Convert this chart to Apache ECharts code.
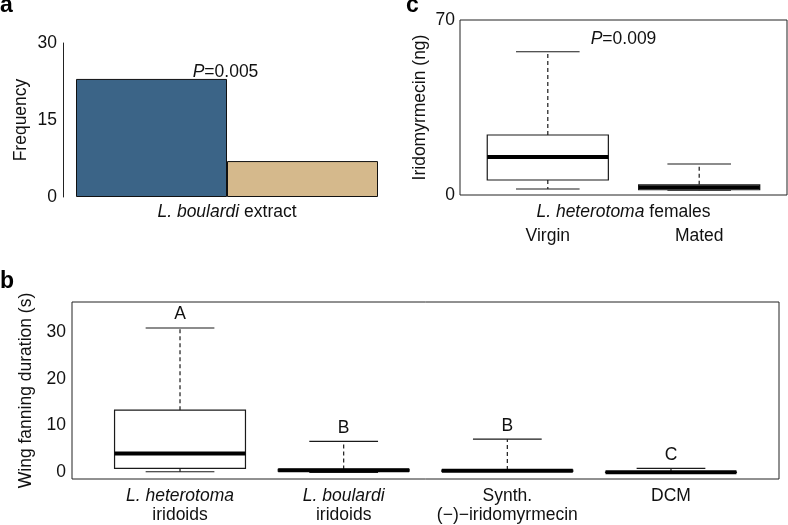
<!DOCTYPE html>
<html><head><meta charset="utf-8">
<script src="https://cdn.jsdelivr.net/npm/echarts@6/dist/echarts.min.js"></script>
<style>html,body{margin:0;padding:0;background:#fff}#c{width:788px;height:525px}</style>
</head><body><div id="c"></div>
<script>
// ---------- Panel a: bar chart ----------
const aBars = ['Choice 1', 'Choice 2'];
const aFreq = [23, 7];
const aColors = ['#3B6487', '#D5B98C'];
const aTicks = [0, 15, 30];

// ---------- Panel c: iridomyrmecin boxplot ----------
const cCats = ['Virgin', 'Mated'];
const cMin = [2.4, 1.9];
const cQ1 = [6.0, 2.1];
const cMed = [15.2, 3.1];
const cQ3 = [24.0, 4.1];
const cMax = [57.3, 12.4];
const cTicks = [0, 70];

// ---------- Panel b: wing fanning boxplot ----------
const bCats = ['{i|L. heterotoma}\n{n|iridoids}', '{i|L. boulardi}\n{n|iridoids}', '{n|Synth.}\n{n|(\u2212)\u2212iridomyrmecin}', '{n|DCM}'];
const bMin = [0.15, 0.0, 0.2, 0.0];
const bQ1 = [0.87, 0.25, 0.2, 0.0];
const bMed = [4.07, 0.45, 0.35, 0.03];
const bQ3 = [13.3, 0.65, 0.5, 0.08];
const bMax = [30.85, 6.63, 7.1, 0.87];
const bLetters = ['A', 'B', 'B', 'C'];
const bTicks = [0, 10, 20, 30];

const FONT = '"Liberation Sans", Arial, Helvetica, sans-serif';
const INK = '#111';
const FS = 17.5;

function boxRender(letters) {
  return function (params, api) {
    const i = params.dataIndex;
    const x = api.value(0);
    const w = api.size([0.8, 0])[0];
    const cw = api.size([0.42, 0])[0];
    const cx = api.coord([x, 0])[0];
    const y = v => api.coord([x, v])[1];
    const yMin = y(api.value(1)), yQ1 = y(api.value(2)), yMed = y(api.value(3)),
          yQ3 = y(api.value(4)), yMax = y(api.value(5));
    const dark = '#1a1a1a';
    const children = [
      {type: 'line', shape: {x1: cx, y1: yQ3, x2: cx, y2: yMax}, style: {stroke: dark, lineWidth: 1.2, lineDash: [4, 3]}},
      {type: 'line', shape: {x1: cx, y1: yQ1, x2: cx, y2: yMin}, style: {stroke: dark, lineWidth: 1.2, lineDash: [4, 3]}},
      {type: 'line', shape: {x1: cx - cw / 2, y1: yMax, x2: cx + cw / 2, y2: yMax}, style: {stroke: dark, lineWidth: 1.2}},
      {type: 'line', shape: {x1: cx - cw / 2, y1: yMin, x2: cx + cw / 2, y2: yMin}, style: {stroke: dark, lineWidth: 1.2}},
      {type: 'rect', shape: {x: cx - w / 2, y: yQ3, width: w, height: yQ1 - yQ3}, style: {fill: '#fff', stroke: dark, lineWidth: 1.2}},
      {type: 'line', shape: {x1: cx - w / 2, y1: yMed, x2: cx + w / 2, y2: yMed}, style: {stroke: '#000', lineWidth: 4}}
    ];
    if (letters) {
      children.push({type: 'text', style: {text: letters[i], x: cx, y: yMax - 13.5, align: 'center', verticalAlign: 'middle', font: FS + 'px ' + FONT, fill: INK}});
    }
    return {type: 'group', children: children};
  };
}

const chart = echarts.init(document.getElementById('c'), null, {renderer: 'canvas'});
const labelStyle = {fontSize: FS, color: INK, fontFamily: FONT};
const italicRich = {i: {fontStyle: 'italic', fontSize: FS, fontFamily: FONT, color: INK}};

const option = {
  animation: false,
  backgroundColor: '#fff',
  textStyle: {fontFamily: FONT, color: INK},
  grid: [
    {left: 76, top: 43, width: 302, height: 154},
    {left: 460, top: 20, width: 327, height: 175, show: true, borderColor: '#222', borderWidth: 1, backgroundColor: 'transparent'},
    {left: 72, top: 302, width: 707, height: 177, show: true, borderColor: '#222', borderWidth: 1, backgroundColor: 'transparent'}
  ],
  xAxis: [
    {
      gridIndex: 0, type: 'category', data: aBars,
      axisLine: {show: false}, axisTick: {show: false}, axisLabel: {show: false},
      name: '{i|L. boulardi} extract', nameLocation: 'middle', nameGap: 6, nameMoveOverlap: false,
      nameTextStyle: {fontSize: FS, color: INK, fontFamily: FONT, rich: italicRich}
    },
    {
      gridIndex: 1, type: 'value', min: 0.42, max: 2.58,
      axisLine: {show: false}, axisTick: {show: false}, splitLine: {show: false},
      axisLabel: Object.assign({customValues: [1, 2], formatter: v => cCats[Math.round(v) - 1] || '', margin: 32}, labelStyle),
      name: '{i|L. heterotoma} females', nameLocation: 'middle', nameGap: 8, nameMoveOverlap: false,
      nameTextStyle: {fontSize: FS, color: INK, fontFamily: FONT, rich: italicRich}
    },
    {
      gridIndex: 2, type: 'value', min: 0.34, max: 4.66,
      axisLine: {show: false}, axisTick: {show: false}, splitLine: {show: false},
      axisLabel: Object.assign({
        customValues: [1, 2, 3, 4], formatter: v => bCats[Math.round(v) - 1] || '', margin: 7,
        rich: {
          i: {fontStyle: 'italic', fontSize: FS, lineHeight: 19.5, fontFamily: FONT, color: INK},
          n: {fontSize: FS, lineHeight: 19.5, fontFamily: FONT, color: INK}
        }
      }, labelStyle)
    }
  ],
  yAxis: [
    {
      gridIndex: 0, type: 'value', min: 0, max: 30, interval: 15, offset: 13,
      axisLine: {show: true, lineStyle: {color: '#222', width: 1}}, axisTick: {show: false}, splitLine: {show: false},
      axisLabel: Object.assign({customValues: aTicks, margin: 6}, labelStyle),
      name: 'Frequency', nameLocation: 'middle', nameGap: 33,
      nameTextStyle: {fontSize: FS, color: INK, fontFamily: FONT}
    },
    {
      gridIndex: 1, type: 'value', min: 0, max: 70,
      axisLine: {show: false}, axisTick: {show: false}, splitLine: {show: false},
      axisLabel: Object.assign({customValues: cTicks, margin: 5}, labelStyle),
      name: 'Iridomyrmecin (ng)', nameLocation: 'middle', nameGap: 31,
      nameTextStyle: {fontSize: FS, color: INK, fontFamily: FONT}
    },
    {
      gridIndex: 2, type: 'value', min: -1.4, max: 36.4,
      axisLine: {show: false}, axisTick: {show: false}, splitLine: {show: false},
      axisLabel: Object.assign({customValues: bTicks, margin: 6}, labelStyle),
      name: 'Wing fanning duration (s)', nameLocation: 'middle', nameGap: 33,
      nameTextStyle: {fontSize: FS, color: INK, fontFamily: FONT}
    }
  ],
  series: [
    {
      type: 'bar', xAxisIndex: 0, yAxisIndex: 0, barCategoryGap: '0%',
      data: aFreq.map((v, i) => ({value: v, itemStyle: {color: aColors[i], borderColor: '#111', borderWidth: 1}}))
    },
    {
      type: 'custom', xAxisIndex: 1, yAxisIndex: 1,
      renderItem: boxRender(null),
      encode: {x: 0, y: [1, 2, 3, 4, 5]},
      data: cCats.map((_, i) => [i + 1, cMin[i], cQ1[i], cMed[i], cQ3[i], cMax[i]])
    },
    {
      type: 'custom', xAxisIndex: 2, yAxisIndex: 2,
      renderItem: boxRender(bLetters),
      encode: {x: 0, y: [1, 2, 3, 4, 5]},
      data: bCats.map((_, i) => [i + 1, bMin[i], bQ1[i], bMed[i], bQ3[i], bMax[i]])
    }
  ],
  graphic: [
    {type: 'text', left: 0, top: -6, style: {text: 'a', font: 'bold 23px ' + FONT, fill: '#000'}},
    {type: 'text', left: 0, top: 270, style: {text: 'b', font: 'bold 23px ' + FONT, fill: '#000'}},
    {type: 'text', left: 406, top: -6, style: {text: 'c', font: 'bold 23px ' + FONT, fill: '#000'}},
    {type: 'text', x: 225.5, y: 72, style: {text: '{i|P}=0.005', align: 'center', verticalAlign: 'middle', font: FS + 'px ' + FONT, fill: INK,
      rich: italicRich}},
    {type: 'text', x: 623.5, y: 39, style: {text: '{i|P}=0.009', align: 'center', verticalAlign: 'middle', font: FS + 'px ' + FONT, fill: INK,
      rich: italicRich}}
  ]
};
chart.setOption(option);
</script>
</body></html>
